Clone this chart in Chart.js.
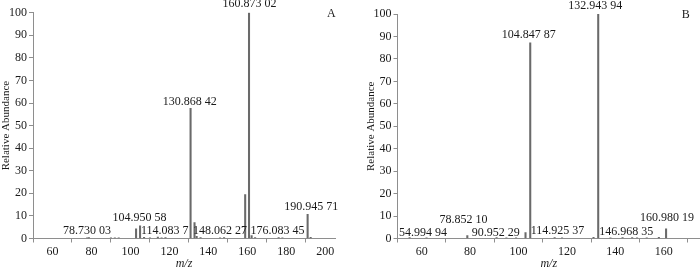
<!DOCTYPE html>
<html>
<head>
<meta charset="utf-8">
<title>MS spectra A / B</title>
<script src="https://cdn.jsdelivr.net/npm/chart.js@4"></script>
<style>
  html, body { margin: 0; padding: 0; background: #fff; }
  #wrap { position: relative; width: 700px; height: 271px; overflow: hidden; }
  #wrap canvas { position: absolute; top: 0; }
</style>
</head>
<body>
<div id="wrap">
  <canvas id="specA" width="350" height="271" style="left:0"></canvas>
  <canvas id="specB" width="350" height="271" style="left:350px"></canvas>
</div>
<script>
// ---- data ----
// Panel A
const mzA = [77.8, 78.7, 90, 92, 94, 102.9, 104.95, 107, 110, 114.08, 116, 118,
  130.87, 132.9, 134, 136, 146, 148.06, 158.9, 160.87, 162.2, 164, 176.08, 178, 190.95, 192.5];
const abundA = [0.3, 0.4, 0.3, 0.3, 0.3, 4.3, 5.6, 0.5, 0.3, 0.6, 0.3, 0.4,
  57.6, 7.0, 1.0, 0.4, 0.3, 0.4, 19.4, 100, 1.3, 0.4, 0.4, 0.3, 10.7, 0.5];
const labelTextA = ['160.873 02', '130.868 42', '104.950 58', '78.730 03', '114.083 7',
  '148.062 27', '176.083 45', '190.945 71'];
const labelMzA = [161.1, 130.4, 104.7, 77.7, 117.6, 146.0, 175.5, 192.8];
const labelAbA = [103.8, 60.6, 9.0, 3.2, 3.2, 3.2, 3.2, 14.2];
const ticksXA = [60, 80, 100, 120, 140, 160, 180, 200];

// Panel B
const mzB = [55.0, 62, 78.85, 90.95, 95, 99, 102.9, 104.85, 114.93, 118, 131, 132.94,
  138, 143, 146.97, 149, 153, 158, 160.98];
const abundB = [0.4, 0.3, 1.3, 0.4, 0.3, 0.3, 2.6, 87.2, 0.4, 0.3, 0.5, 100,
  0.3, 0.4, 0.4, 0.3, 0.3, 0.5, 4.3];
const labelTextB = ['132.943 94', '104.847 87', '78.852 10', '54.994 94', '90.952 29',
  '114.925 37', '146.968 35', '160.980 19'];
const labelMzB = [131.7, 104.2, 77.3, 60.5, 90.6, 116.1, 144.5, 161.4];
const labelAbB = [103.6, 90.6, 8.3, 2.7, 2.7, 3.2, 2.8, 9.1];
const ticksXB = [60, 80, 100, 120, 140, 160];

const ticksY = [0, 10, 20, 30, 40, 50, 60, 70, 80, 90, 100];

// ---- styling ----
const FONT = '"Liberation Serif", "DejaVu Serif", serif';
const TEXT = '#1a1a1a';
const AXIS = '#8e8e8e';
const BAR = '#6a6a6a';

// draws the peak labels and the panel letter from data coordinates
const peakLabels = {
  id: 'peakLabels',
  afterDatasetsDraw(chart, args, opts) {
    const { ctx, scales: { x, y } } = chart;
    ctx.save();
    ctx.fillStyle = TEXT;
    ctx.font = '12px ' + FONT;
    ctx.textAlign = 'center';
    ctx.textBaseline = 'middle';
    opts.text.forEach((t, i) => {
      ctx.fillText(t, x.getPixelForValue(opts.mz[i]), y.getPixelForValue(opts.ab[i]));
    });
    ctx.font = '12px ' + FONT;
    ctx.fillText(opts.letter, x.getPixelForValue(opts.letterMz), y.getPixelForValue(99.5));
    ctx.restore();
  }
};

function makeSpectrum(id, mz, ab, xMax, xTicks, pad, labels) {
  const el = document.getElementById(id);
  if (!el) return null;
  return new Chart(el.getContext('2d'), {
    type: 'bar',
    data: {
      datasets: [{
        data: mz.map((m, i) => ({ x: m, y: ab[i] })),
        backgroundColor: BAR,
        borderWidth: 0,
        barThickness: 1.4,
        grouped: false
      }]
    },
    plugins: [peakLabels],
    options: {
      responsive: false,
      animation: false,
      devicePixelRatio: 1,
      layout: { padding: pad },
      plugins: {
        legend: { display: false },
        tooltip: { enabled: false },
        peakLabels: labels
      },
      scales: {
        x: {
          type: 'linear',
          min: 50,
          max: xMax,
          offset: false,
          afterBuildTicks: (s) => { s.ticks = xTicks.map(v => ({ value: v })); },
          afterFit: (s) => { s.height = 32.5; },
          border: { display: true, color: AXIS, width: 1 },
          grid: { drawOnChartArea: false, drawTicks: true, tickLength: 4, color: AXIS },
          ticks: { color: TEXT, font: { family: FONT, size: 12 }, padding: 2, maxRotation: 0 },
          title: {
            display: true, text: 'm/z', color: TEXT, padding: 0,
            font: { family: FONT, size: 12, style: 'italic' }
          }
        },
        y: {
          min: 0,
          max: 100,
          afterBuildTicks: (s) => { s.ticks = ticksY.map(v => ({ value: v })); },
          afterFit: (s) => { s.width = 33; },
          border: { display: true, color: AXIS, width: 1 },
          grid: { drawOnChartArea: false, drawTicks: true, tickLength: 4, color: AXIS },
          ticks: { color: TEXT, font: { family: FONT, size: 12 }, padding: 2 },
          title: {
            display: true, text: 'Relative Abundance', color: TEXT, padding: 0,
            font: { family: FONT, size: 11 }
          }
        }
      }
    }
  });
}

makeSpectrum('specA', mzA, abundA, 205, ticksXA,
  { top: 12.7, right: 15, bottom: 0, left: 0 },
  { text: labelTextA, mz: labelMzA, ab: labelAbA, letter: 'A', letterMz: 203.1 });

makeSpectrum('specB', mzB, abundB, 175, ticksXB,
  { top: 14, right: 0, bottom: 0, left: 14.5 },
  { text: labelTextB, mz: labelMzB, ab: labelAbB, letter: 'B', letterMz: 169.1 });
</script>
</body>
</html>
